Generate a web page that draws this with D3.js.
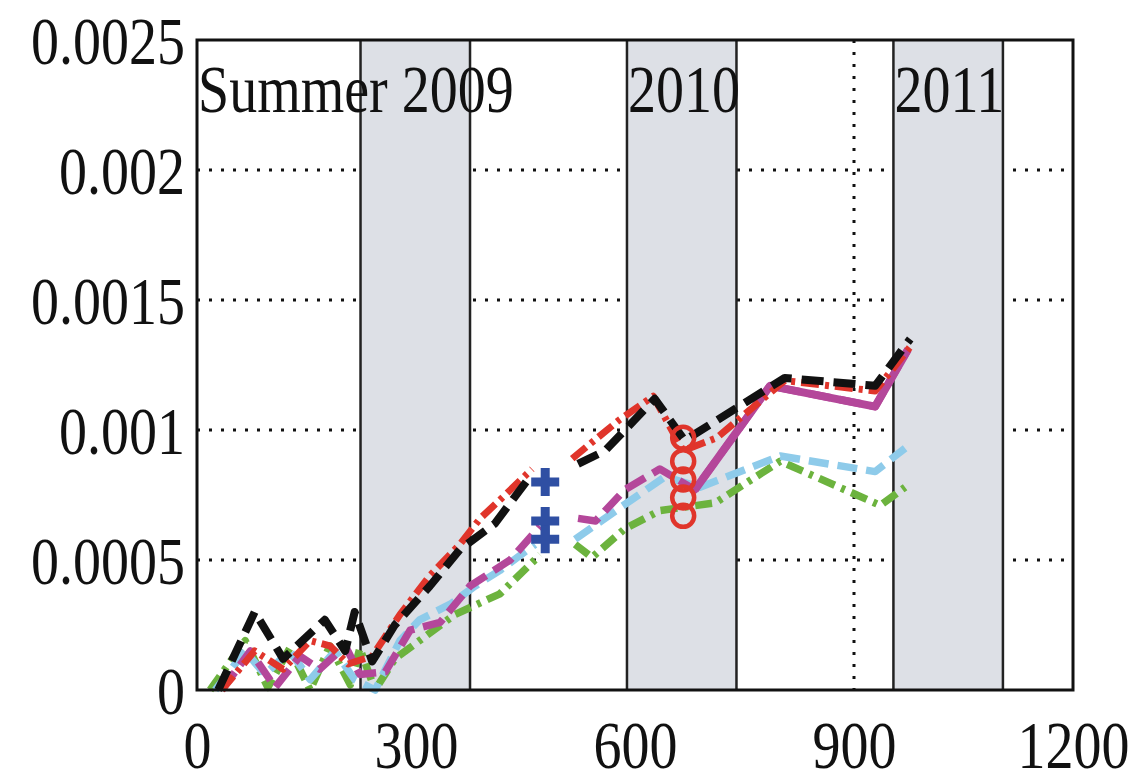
<!DOCTYPE html>
<html><head><meta charset="utf-8">
<script src="https://cdn.jsdelivr.net/npm/d3@7"></script>
<style>body{margin:0;background:#fff}svg{display:block}</style>
</head><body>
<svg id="c" width="1134" height="782"></svg>
<script>
// ---- data ----
const xTicks = [0, 300, 600, 900, 1200];
const xTickLabels = ["0", "300", "600", "900", "1200"];
const yTicks = [0, 0.0005, 0.001, 0.0015, 0.002, 0.0025];
const yTickLabels = ["0", "0.0005", "0.001", "0.0015", "0.002", "0.0025"];
const seasonStart = [224, 589, 954];
const seasonEnd = [374, 739, 1104];
const seasonLabels = ["Summer 2009", "2010", "2011"];
const seasonLabelX = [0, 589, 954];

// series (null marks the gap between the two campaigns)
const blackX = [29,79,118,175,203,216,240,271,319,360,408,456,null,522,559,627,668,805,929,977];
const blackY = [0,0.0003,0.00012,0.00027,0.00015,0.0003,0.00011,0.00025,0.0004,0.00054,0.00064,0.00082,null,0.00087,0.00092,0.00112,0.00096,0.0012,0.00117,0.00135];
const redX = [34,79,118,155,182,207,240,278,319,360,388,422,459,null,514,579,625,666,712,805,929,977];
const redY = [0,0.00015,0.00008,0.00019,0.00017,0.0001,0.00013,0.00029,0.00044,0.00056,0.00066,0.00075,0.00085,null,0.00089,0.00104,0.00113,0.00092,0.00097,0.00119,0.00115,0.00132];
const magentaX = [34,73,107,141,168,203,223,258,292,333,374,429,470,null,522,546,586,634,682,785,929,974];
const magentaY = [0,0.00015,0.00001,0.00013,0.00008,0.00017,0.00006,0.00007,0.00023,0.00026,0.0004,0.0005,0.00063,null,0.00066,0.00065,0.00077,0.00085,0.00077,0.00117,0.00109,0.00131];
const blueX = [25,66,93,127,155,189,216,244,278,305,347,381,415,463,null,518,579,641,689,799,929,970];
const blueY = [0,0.00015,0.00006,0.00015,0.00004,0.00015,0.00004,0,0.00019,0.00027,0.00033,0.0004,0.00046,0.00056,null,0.00058,0.0007,0.00082,0.00078,0.0009,0.00084,0.00093];
const greenX = [18,66,97,127,155,182,210,223,244,271,305,353,415,470,null,518,541,586,634,710,799,936,970];
const greenY = [0,0.00019,0.00001,0.00016,0,0.00017,0.00002,0.00016,0,0.00012,0.00019,0.00029,0.00037,0.00052,null,0.00056,0.00051,0.00062,0.00069,0.00072,0.00088,0.00071,0.00078];
const plusX = [477, 477, 477];
const plusY = [0.0008, 0.00065, 0.00058];
const circleX = [666, 666, 666, 666, 666];
const circleY = [0.00097, 0.00088, 0.00081, 0.00074, 0.00067];

// ---- layout ----
const L = 197, R = 1073, T = 40, B = 690;
const FONT = "'Liberation Serif','Times New Roman',serif";
const SY = 1.22;
const svg = d3.select("#c");
const x = d3.scaleLinear().domain([0, 1200]).range([L, R]);
const y = d3.scaleLinear().domain([0, 0.0025]).range([B, T]);

svg.append("rect").attr("width", 1134).attr("height", 782).attr("fill", "#fff");

// grid
const grid = svg.append("g").attr("stroke", "#111").attr("stroke-width", 3).attr("stroke-dasharray", "3,9");
grid.selectAll("line.h").data(yTicks.slice(1, -1)).join("line")
  .attr("x1", L).attr("x2", R).attr("y1", d => y(d)).attr("y2", d => y(d));
grid.selectAll("line.v").data(xTicks.slice(1, -1)).join("line").attr("class", "v")
  .attr("y1", T).attr("y2", B).attr("x1", d => x(d)).attr("x2", d => x(d));

// seasons
const bands = svg.append("g");
bands.selectAll("rect").data(seasonStart).join("rect")
  .attr("x", d => x(d)).attr("y", T)
  .attr("width", (d, i) => x(seasonEnd[i]) - x(d)).attr("height", B - T)
  .attr("fill", "#dde0e6");
bands.selectAll("line.s").data(seasonStart.concat(seasonEnd)).join("line")
  .attr("x1", d => x(d)).attr("x2", d => x(d)).attr("y1", T).attr("y2", B)
  .attr("stroke", "#222").attr("stroke-width", 2.5);

// lines
const mk = (xs, ys) => xs.map((v, i) => ({x: v, y: ys[i]}));
const line = d3.line().defined(d => d.x !== null && d.y !== null).x(d => x(d.x)).y(d => y(d.y));
const series = [
  {d: mk(greenX, greenY), c: "#6cb33e", w: 7.5, dash: "17,7,4,7"},
  {d: mk(blueX, blueY), c: "#8ecbea", w: 7.5, dash: "20,9"},
  {d: mk(magentaX, magentaY), c: "#b4479a", w: 7.5, dash: "22,9"},
  {d: mk(redX, redY), c: "#e0352b", w: 7, dash: "18,6,4,6"},
  {d: mk(blackX, blackY), c: "#111", w: 8, dash: "22,10"}
];
const lg = svg.append("g").attr("fill", "none").attr("stroke-linejoin", "round");
series.forEach((s, i) => {
  lg.append("path").datum(s.d).attr("d", line)
    .attr("stroke", s.c).attr("stroke-width", s.w).attr("stroke-dasharray", s.dash);
  if (i === 2) {
    // magenta becomes a solid line in the last part of the second campaign
    lg.append("path").datum(s.d.filter(p => p.x !== null && p.x >= 680)).attr("d", line)
      .attr("stroke", s.c).attr("stroke-width", 8);
  }
});

// markers
const mg = svg.append("g");
mg.selectAll("path.plus").data(plusX.map((v, i) => ({x: v, y: plusY[i]}))).join("path")
  .attr("d", d => { const cx = x(d.x), cy = y(d.y), h = 14; return `M${cx - h},${cy}H${cx + h}M${cx},${cy - h}V${cy + h}`; })
  .attr("stroke", "#2f4fa3").attr("stroke-width", 9).attr("fill", "none");
mg.selectAll("circle").data(circleX.map((v, i) => ({x: v, y: circleY[i]}))).join("circle")
  .attr("cx", d => x(d.x)).attr("cy", d => y(d.y)).attr("r", 11)
  .attr("fill", "none").attr("stroke", "#e0352b").attr("stroke-width", 4.5);

// frame
svg.append("rect").attr("x", L).attr("y", T).attr("width", R - L).attr("height", B - T)
  .attr("fill", "none").attr("stroke", "#111").attr("stroke-width", 3);

// axes
const ax = svg.append("g").attr("transform", `translate(0,${B})`)
  .call(d3.axisBottom(x).tickValues(xTicks).tickSize(0).tickFormat((d, i) => xTickLabels[i]));
ax.select(".domain").remove();
ax.selectAll("text").attr("y", 0).attr("dy", null)
  .attr("transform", `translate(0,78) scale(1,${SY})`)
  .attr("font-family", FONT).attr("font-size", 56).attr("fill", "#111");
const ay = svg.append("g").attr("transform", `translate(${L},0)`)
  .call(d3.axisLeft(y).tickValues(yTicks).tickSize(0).tickFormat((d, i) => yTickLabels[i]));
ay.select(".domain").remove();
ay.selectAll("text").attr("x", 0).attr("dy", "0.34em")
  .attr("transform", `translate(-12,0) scale(1,${SY})`)
  .attr("font-family", FONT).attr("font-size", 56).attr("fill", "#111");

// season labels
svg.append("g").selectAll("text").data(seasonLabels).join("text")
  .attr("transform", (d, i) => `translate(${x(seasonLabelX[i]) + 1},112) scale(1,${SY})`)
  .attr("font-family", FONT).attr("font-size", 56).attr("fill", "#111")
  .text(d => d);
</script>
</body></html>
